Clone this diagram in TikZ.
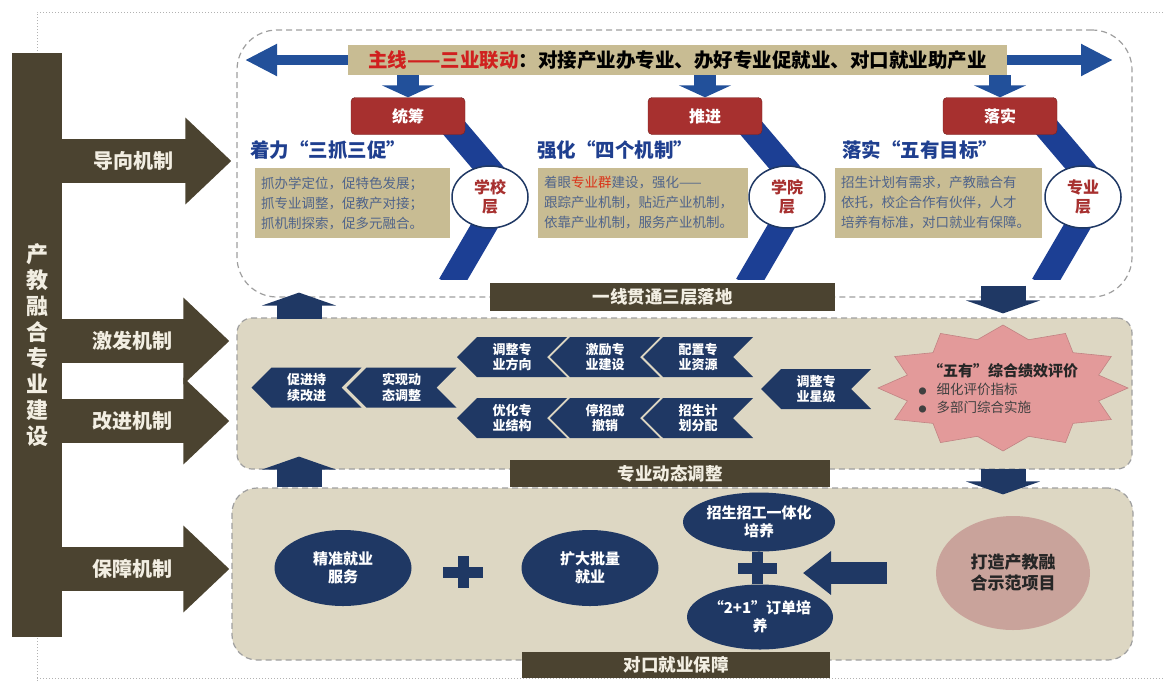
\documentclass[tikz,border=0pt]{standalone}
\usepackage{fontspec}
\setmainfont{Noto Sans CJK SC}
\usetikzlibrary{positioning,arrows.meta,shapes.symbols,shapes.geometric}

\definecolor{darkbrown}{HTML}{4B4330}
\definecolor{navy}{HTML}{1F3864}
\definecolor{bandblue}{HTML}{1C3F94}
\definecolor{linkblue}{HTML}{22509A}
\definecolor{boxred}{HTML}{A7302F}
\definecolor{tanbox}{HTML}{C8BC93}
\definecolor{panelfill}{HTML}{DDD7C3}
\definecolor{textgray}{HTML}{50648A}
\definecolor{headblue}{HTML}{1F3F8F}
\definecolor{starpink}{HTML}{E39A9A}
\definecolor{roundpink}{HTML}{C9A39B}
\definecolor{labelwhite}{HTML}{F2EEE2}
\definecolor{hotred}{HTML}{D0201F}

\begin{document}
\begin{tikzpicture}[
		x=1pt, y=-1pt,
		frame/.style = {draw=gray!60, dotted, line width=1pt},
		panel/.style = {draw=gray!75, line width=1.2pt, dash pattern=on 6pt off 4pt},
		labelbar/.style = {fill=darkbrown, text=labelwhite, font=\bfseries\fontsize{17.5}{20}\selectfont, inner sep=0pt},
		barbox/.style = {fill=darkbrown, text=labelwhite, font=\bfseries\fontsize{22}{26}\selectfont, align=center, inner sep=0pt},
		mech/.style = {darkbrown, line width=44pt, -{Triangle[width=84pt,length=46pt]}},
		mechtext/.style = {text=labelwhite, font=\bfseries\fontsize{20}{22}\selectfont},
		mainline/.style = {linkblue, line width=10pt, {Triangle[width=30pt,length=32pt]}-{Triangle[width=30pt,length=32pt]}},
		blockdown/.style = {linkblue, line width=22pt, -{Triangle[width=52pt,length=12pt]}},
		panelarrow/.style = {navy, line width=45pt, -{Triangle[width=74pt,length=13pt]}},
		blockleft/.style = {navy, line width=22pt, -{Triangle[width=42pt,length=28pt]}},
		band/.style = {bandblue, line width=25pt, line join=miter},
		redbox/.style = {fill=boxred, draw=boxred!70!black, rounded corners=4pt, minimum width=114pt, minimum height=37pt, text=white, font=\bfseries\fontsize{16}{18}\selectfont},
		level/.style = {ellipse, draw=navy, line width=1.5pt, fill=white, minimum width=76pt, minimum height=62pt, inner sep=0pt, text=boxred, font=\bfseries\fontsize{16}{19}\selectfont, align=center},
		heading/.style = {anchor=west, text=headblue, font=\bfseries\fontsize{19.5}{22}\selectfont, inner sep=0pt},
		tanbox/.style = {fill=tanbox, minimum height=70pt, inner sep=6pt, text=textgray, font=\fontsize{13.5}{20}\selectfont, align=left},
		chev/.style = {shape=signal, signal to=west, signal from=east, signal pointer angle=90, fill=navy, text=white, font=\bfseries\fontsize{13}{15.5}\selectfont, align=center, minimum width=110pt, minimum height=40pt, inner sep=0pt},
		oval/.style = {ellipse, fill=navy, text=white, font=\bfseries\fontsize{15}{18}\selectfont, align=center, inner sep=0pt},
		evalitem/.style = {anchor=west, font=\fontsize{13.5}{16}\selectfont, text=black!75},
		plussign/.style = {navy, line width=11pt}
	]
	\useasboundingbox (0,0) rectangle (1164,681);
	\draw[frame] (37,681) |- (1164,12);
	\draw[frame] (37,678) -- (1164,678);

	\node[panel, fill=white, rounded corners=40pt, minimum width=895pt, minimum height=267pt] (p1) at (684.5,163.5) {};
	\node[panel, fill=panelfill, rounded corners=15pt, minimum width=895pt, minimum height=151pt] (p2) at (684.5,393.5) {};
	\node[panel, fill=panelfill, rounded corners=25pt, minimum width=901pt, minimum height=172pt] (p3) at (682.5,574) {};

	\node[barbox, minimum width=50pt, minimum height=584pt] (bar) at (37,345) {产\\教\\融\\合\\专\\业\\建\\设};
	\coordinate (guide) at (0,161);
	\coordinate (spur) at (0,341);
	\coordinate (improve) at (0,421);
	\coordinate (secure) at (0,569);
	\draw[mech] (bar.east |- guide) -- ([xshift=-5pt]p1.west |- guide) node[mechtext, pos=0.42] {导向机制};
	\draw[mech] (bar.east |- spur) -- ([xshift=-7pt]p2.west |- spur) node[mechtext, pos=0.42] {激发机制};
	\draw[mech] (bar.east |- improve) -- ([xshift=-7pt]p2.west |- improve) node[mechtext, pos=0.42] {改进机制};
	\draw[mech] (bar.east |- secure) -- ([xshift=-2pt]p3.west |- secure) node[mechtext, pos=0.42] {保障机制};

	\coordinate (mainL) at (245,60);
	\coordinate (mainR) at (1113,60);
	\draw[mainline] (mainL) -- (mainR);
	\node[fill=tanbox, minimum width=659pt, minimum height=30pt, inner sep=0pt, font=\bfseries\fontsize{19.5}{21}\selectfont] (main) at (677.5,60) {\textcolor{hotred}{主线——三业联动}：对接产业办专业、办好专业促就业、对口就业助产业};

	\begin{scope}
		\clip (237,110) rectangle (1132,279);
		\draw[band] (443,115) -- (506,189) -- (450,285);
		\draw[band] (740,115) -- (803,189) -- (747,285);
		\draw[band] (1036,115) -- (1099,189) -- (1043,285);
	\end{scope}

	\node[redbox] (plan) at (408,116) {统筹};
	\node[redbox] (push) at (705,116) {推进};
	\node[redbox] (act) at (1000,116) {落实};
	\draw[blockdown] (main.south -| plan) -- (plan.north);
	\draw[blockdown] (main.south -| push) -- (push.north);
	\draw[blockdown] (main.south -| act) -- (act.north);

	\node[level] (school) at (490,197) {学校\\层};
	\node[level] (college) at (787,197) {学院\\层};
	\node[level] (major) at (1083,197) {专业\\层};

	\node[heading] (h1) at (250,150) {着力“三抓三促”};
	\node[heading] (h2) at (537,150) {强化“四个机制”};
	\node[heading] (h3) at (842,150) {落实“五有目标”};
	\node[tanbox, minimum width=195pt, text width=183pt] (t1) at (352.5,203) {抓办学定位，促特色发展；\\抓专业调整，促教产对接；\\抓机制探索，促多元融合。};
	\node[tanbox, minimum width=210pt, text width=198pt] (t2) at (643,203) {着眼\textcolor{hotred!80!orange}{专业群}建设，强化——\\跟踪产业机制，贴近产业机制，\\依靠产业机制，服务产业机制。};
	\node[tanbox, minimum width=207pt, text width=195pt] (t3) at (938.5,203) {招生计划有需求，产教融合有\\依托，校企合作有伙伴，人才\\培养有标准，对口就业有保障。};

	\node[labelbar, minimum width=345pt, minimum height=28pt] (l1) at (662.5,297) {一线贯通三层落地};
	\coordinate (upx) at (299,0);
	\coordinate (dnx) at (1003,0);
	\draw[panelarrow] ([yshift=-2pt]upx |- p2.north) -- ([yshift=5pt]upx |- p1.south);
	\draw[panelarrow] ([yshift=12pt]dnx |- p1.south) -- ([yshift=4pt]dnx |- p2.north);

	\node[chev] (dir) at (512,357) {调整专\\业方向};
	\node[chev] (boost) at (605,357) {激励专\\业建设};
	\node[chev] (alloc) at (698,357) {配置专\\业资源};
	\node[chev] (optim) at (512,418) {优化专\\业结构};
	\node[chev] (stop) at (605,418) {停招或\\撤销};
	\node[chev] (quota) at (698,418) {招生计\\划分配};
	\node[chev] (keep) at (306.5,387.5) {促进持\\续改进};
	\node[chev] (dyn) at (401.5,387.5) {实现动\\态调整};
	\node[chev] (star) at (816,389) {调整专\\业星级};

	\fill[starpink, draw=starpink!85!black, line width=0.6pt] plot[samples at={0,...,23}, variable=\i] ({1003+(125-26*mod(\i,2))*cos(15*\i)}, {388+(63-13*mod(\i,2))*sin(15*\i)}) -- cycle;
	\node[font=\bfseries\fontsize{15}{18}\selectfont, text=black!85] (evt) at (1003,371) {“五有”综合绩效评价};
	\node[evalitem] (ev1) at (915,389) {{\fontsize{8}{8}\selectfont ●}\hspace{10pt}细化评价指标};
	\node[evalitem] (ev2) at (915,407) {{\fontsize{8}{8}\selectfont ●}\hspace{10pt}多部门综合实施};

	\node[labelbar, minimum width=320pt, minimum height=27pt] (l2) at (670,473.5) {专业动态调整};
	\draw[panelarrow] ([yshift=0pt]upx |- p3.north) -- ([yshift=13pt]upx |- p2.south);
	\draw[panelarrow] ([yshift=1pt]dnx |- p2.south) -- ([yshift=-7pt]dnx |- p3.north);

	\node[oval, minimum width=137pt, minimum height=76pt] (svc) at (343,568) {精准就业\\服务};
	\node[oval, minimum width=137pt, minimum height=76pt] (bulk) at (590,568) {扩大批量\\就业};
	\node[oval, minimum width=152pt, minimum height=59pt] (integ) at (759,522) {招生招工一体化\\培养};
	\node[oval, minimum width=146pt, minimum height=65pt] (order) at (760,617) {“2+1”订单培\\养};
	\node[ellipse, fill=roundpink, minimum width=154pt, minimum height=114pt, inner sep=0pt, align=center, text=black!85, font=\bfseries\fontsize{17}{21}\selectfont] (demo) at (1013,573) {打造产教融\\合示范项目};
	\draw[plussign] (443,572) -- (483,572) (463,556) -- (463,588);
	\draw[plussign] (738,568) -- (777,568) (757,552) -- (757,584);
	\draw[blockleft] ([xshift=-49pt]demo.west) -- ([xshift=43pt]order.north |- demo.west);

	\node[labelbar, minimum width=308pt, minimum height=26pt] (l3) at (676,665) {对口就业保障};
\end{tikzpicture}
\end{document}
